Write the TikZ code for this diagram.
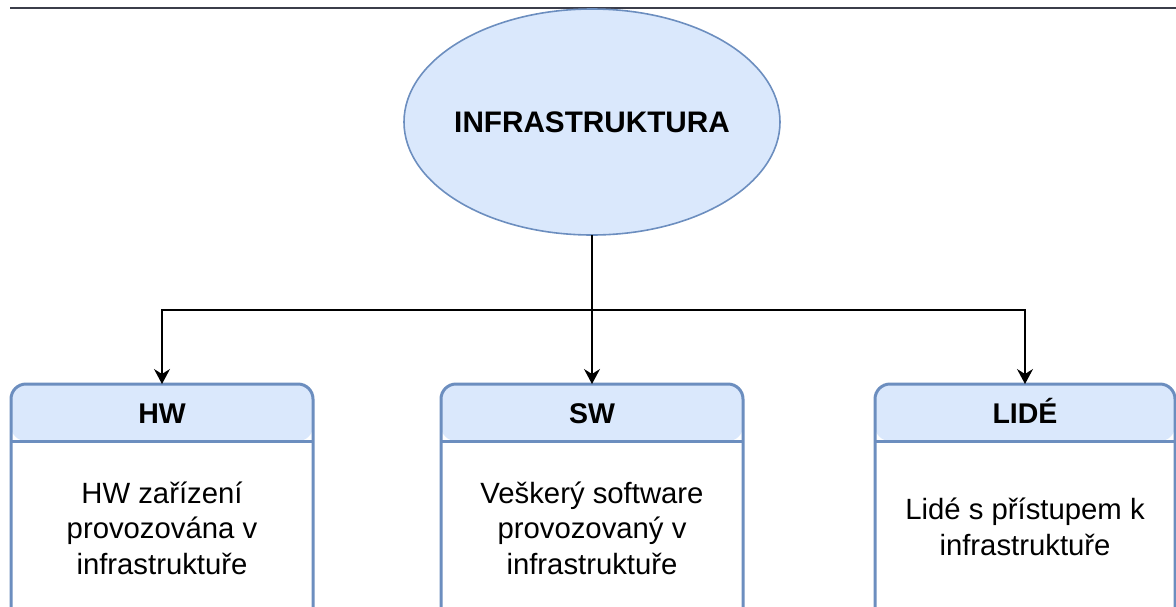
\documentclass[tikz,border=0pt]{standalone}
\usepackage{fontspec}
\setmainfont{Liberation Sans}
\usetikzlibrary{arrows.meta,shapes.geometric}
\definecolor{hdrfill}{HTML}{DAE8FC}
\definecolor{hdrline}{HTML}{6C8EBF}
\definecolor{topline}{HTML}{3B3D4A}
\begin{document}
\begin{tikzpicture}[x=1pt,y=-1pt,
  card/.style={draw=hdrline, line width=3pt, rounded corners=15pt, fill=white,
    minimum width=#1, minimum height=280pt, anchor=north, inner sep=0pt, outer sep=0pt,
    path picture={
      \fill[hdrfill] (path picture bounding box.north west) rectangle ([yshift=-57pt]path picture bounding box.north east);
      \draw[hdrline, line width=3pt] ([yshift=-57pt]path picture bounding box.north west) -- ([yshift=-57pt]path picture bounding box.north east);
    }},
  card/.default=302pt,
  hdrtext/.style={font=\fontsize{28.5}{34}\selectfont\bfseries, inner sep=0pt, anchor=base},
  bodytext/.style={font=\fontsize{29.3}{35.5}\selectfont, align=center, inner sep=0pt},
  conn/.style={draw=black, line width=1.3pt, -{Stealth[length=15pt,width=16pt,inset=5pt]}},
]
\useasboundingbox (0,0) rectangle (1176,606);
\clip (0,0) rectangle (1176,606);

% top rule
\draw[topline, line width=1.5pt] (10,8) -- (1176,8);

% root ellipse
\node[ellipse, draw=hdrline, fill=hdrfill, line width=1.6pt, minimum width=376pt, minimum height=226pt,
  inner sep=0pt, outer sep=0pt, font=\fontsize{29.7}{35}\selectfont\bfseries] (inf) at (592,122) {\makebox[0pt]{INFRASTRUKTURA}};

% cards
\node[card] (hw) at (162,384) {};
\node[card] (sw) at (592,384) {};
\node[card=300pt] (lide) at (1025,384) {};

\node[hdrtext] (hwt) at ([yshift=-39pt]hw.north) {HW};
\node[hdrtext] (swt) at ([yshift=-39pt]sw.north) {SW};
\node[hdrtext] (lidet) at ([yshift=-39pt]lide.north) {LIDÉ};

\node[bodytext] (hwb) at ([yshift=-144pt]hw.north) {HW zařízení\\provozována v\\infrastruktuře};
\node[bodytext] (swb) at ([yshift=-144pt]sw.north) {Veškerý software\\provozovaný v\\infrastruktuře};
\node[bodytext] (lideb) at ([yshift=-143pt]lide.north) {Lidé s přístupem k\\infrastruktuře};

% connectors
\coordinate (bus) at (592,310);
\draw[conn] (inf.south) -- (sw.north);
\draw[conn] (bus) -| (hw.north);
\draw[conn] (bus) -| (lide.north);
\end{tikzpicture}
\end{document}
